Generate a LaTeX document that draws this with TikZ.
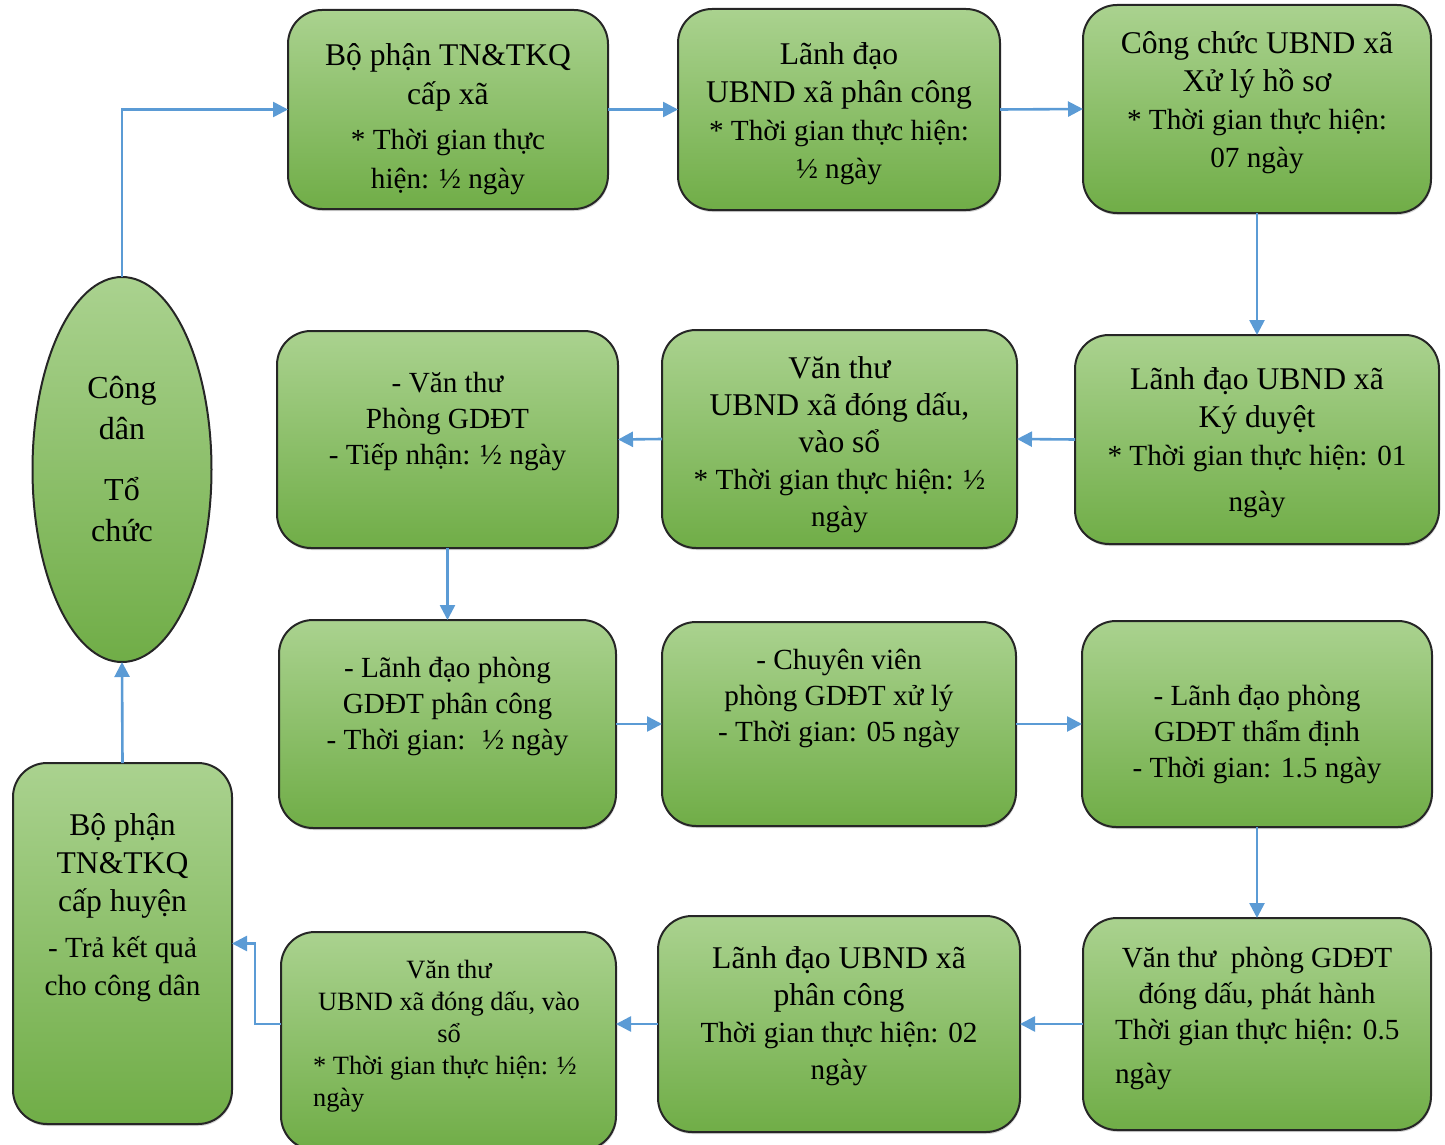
\documentclass[tikz,border=0pt]{standalone}
\usepackage{fontspec}
\setmainfont{Liberation Serif}
\usetikzlibrary{arrows.meta, positioning, shapes.geometric, shadows}

\definecolor{greenTop}{RGB}{170,210,143}
\definecolor{greenBot}{RGB}{112,173,71}
\definecolor{flowBlue}{RGB}{91,155,213}

% heading lines are set a little larger than the time lines
\newcommand{\boxhead}[1]{{\fontsize{15.8}{19}\selectfont #1}}

\begin{document}
\begin{tikzpicture}[
    x=0.5pt, y=-0.5pt,
    % Styles
    box/.style={draw=black!85, line width=1pt, rounded corners=17pt, top color=greenTop, bottom color=greenBot,
        inner sep=0pt, outer sep=0pt, drop shadow={shadow xshift=0.4pt, shadow yshift=-1pt, opacity=0.35}},
    oval/.style={ellipse, draw=black!85, line width=1pt, top color=greenTop, bottom color=greenBot,
        inner sep=0pt, outer sep=0pt, minimum width=89.5pt, minimum height=192.5pt},
    txt/.style={align=center, font=\fontsize{14.6}{19}\selectfont},
    list_txt/.style={align=center, font=\fontsize{14.6}{18}\selectfont},
    small_txt/.style={align=center, font=\fontsize{13.2}{16}\selectfont},
    arrow/.style={-{Triangle[length=7.5pt, width=7.5pt]}, line width=1.3pt, flowBlue}
]
    \useasboundingbox (0,0) rectangle (1445,1145);

    % 1. CITIZEN
    \node[oval] (citizen) at (122,469.5) {};
    \node[txt, font=\fontsize{16}{20.5}\selectfont] (t_citizen) at (122,459.5) {Công\\dân\\[10pt]Tổ\\chức};

    % 2. COMMUNE LEVEL (top row)
    \node[box, minimum width=160pt, minimum height=99.5pt] (recv_xa) at (448,109.5) {};
    \node[txt, font=\fontsize{14.6}{19.5}\selectfont] (t_recv_xa) at (448,119.5)
        {\boxhead{Bộ phận TN\&TKQ}\\\boxhead{cấp xã}\\[3pt]* Thời gian thực\\hiện: ½ ngày};

    \node[box, minimum width=161pt, minimum height=100.5pt] (lead_assign) at (839,109.5) {};
    \node[txt] (t_lead_assign) at (839,113.5)
        {\boxhead{Lãnh đạo}\\\boxhead{UBND xã phân công}\\* Thời gian thực hiện:\\½ ngày};

    \node[box, minimum width=174pt, minimum height=104pt] (officer) at (1257,109) {};
    \node[txt] (t_officer) at (1257,103)
        {\boxhead{Công chức UBND xã}\\\boxhead{Xử lý hồ sơ}\\* Thời gian thực hiện:\\07 ngày};

    % 3. SECOND ROW
    \node[box, minimum width=182pt, minimum height=104.5pt] (lead_sign) at (1257,439.5) {};
    \node[txt] (t_lead_sign) at (1257,442.5)
        {\boxhead{Lãnh đạo UBND xã}\\\boxhead{Ký duyệt}\\* Thời gian thực hiện: 01\\[4pt]ngày};

    \node[box, minimum width=177.5pt, minimum height=109pt] (clerk_xa) at (839.5,439) {};
    \node[txt, font=\fontsize{14.6}{18.5}\selectfont] (t_clerk_xa) at (839.5,445)
        {\boxhead{Văn thư}\\\boxhead{UBND xã đóng dấu,}\\\boxhead{vào sổ}\\* Thời gian thực hiện: ½\\ngày};

    \node[box, minimum width=170.5pt, minimum height=108.5pt] (clerk_gd) at (447.5,439.5) {};
    \node[list_txt] (t_clerk_gd) at (447.5,422) {- Văn thư\\Phòng GDĐT\\- Tiếp nhận: ½ ngày};

    % 4. THIRD ROW
    \node[box, minimum width=168.5pt, minimum height=104pt] (head_assign) at (447.5,724) {};
    \node[list_txt] (t_head_assign) at (447.5,706.5) {- Lãnh đạo phòng\\GDĐT phân công\\- Thời gian:~ ½ ngày};

    \node[box, minimum width=177pt, minimum height=102pt] (expert) at (839,724) {};
    \node[list_txt] (t_expert) at (839,698.5) {- Chuyên viên\\phòng GDĐT xử lý\\- Thời gian: 05 ngày};

    \node[box, minimum width=175pt, minimum height=103pt] (head_check) at (1257,724) {};
    \node[list_txt] (t_head_check) at (1257,734.5) {- Lãnh đạo phòng\\GDĐT thẩm định\\- Thời gian: 1.5 ngày};

    % 5. BOTTOM ROW
    \node[box, minimum width=174pt, minimum height=106pt] (clerk_issue) at (1257,1024) {};
    \node[list_txt] (t_clerk_issue) at (1257,978.5) {Văn thư~ phòng GDĐT\\đóng dấu, phát hành};
    \node[list_txt, align=left, anchor=west] (t_clerk_issue_time) at (1108,1054) {Thời gian thực hiện: 0.5\\[4pt]ngày};

    \node[box, minimum width=181pt, minimum height=108pt] (lead_xa) at (839,1024) {};
    \node[txt, font=\fontsize{14.6}{18.5}\selectfont] (t_lead_xa) at (839,1016)
        {\boxhead{Lãnh đạo UBND xã}\\\boxhead{phân công}\\Thời gian thực hiện: 02\\ngày};

    \node[box, minimum width=167.5pt, minimum height=109pt] (stamp_xa) at (448.5,1041) {};
    \node[small_txt] (t_stamp_xa) at (449,1001) {Văn thư\\UBND xã đóng dấu, vào\\sổ};
    \node[small_txt, align=left, anchor=west] (t_stamp_xa_time) at (306,1084) {* Thời gian thực hiện: ½\\ngày};

    \node[box, minimum width=109.5pt, minimum height=180.5pt] (recv_huyen) at (122.5,943.5) {};
    \node[txt] (t_recv_huyen) at (122.5,907.5)
        {\boxhead{Bộ phận}\\\boxhead{TN\&TKQ}\\\boxhead{cấp huyện}\\[4pt]- Trả kết quả\\cho công dân};

    % 6. ARROWS
    \draw[arrow] (citizen.north) |- (recv_xa.west);
    \draw[arrow] (recv_xa.east) -- (lead_assign.west);
    \draw[arrow] (lead_assign.east) -- (officer.west);
    \draw[arrow] (officer.south) -- (lead_sign.north);
    \draw[arrow] (lead_sign.west) -- (clerk_xa.east);
    \draw[arrow] (clerk_xa.west) -- (clerk_gd.east);
    \draw[arrow] (clerk_gd.south) -- (head_assign.north);
    \draw[arrow] (head_assign.east) -- (expert.west);
    \draw[arrow] (expert.east) -- (head_check.west);
    \draw[arrow] (head_check.south) -- (clerk_issue.north);
    \draw[arrow] (clerk_issue.west) -- (lead_xa.east);
    \draw[arrow] (lead_xa.west) -- (lead_xa.west -| stamp_xa.east);

    % Back to the district desk and the citizen
    \draw[arrow] (stamp_xa.west |- lead_xa.west) -- ++(-26,0) |- (recv_huyen.east);
    \draw[arrow] (recv_huyen.north) -- (citizen.south);

\end{tikzpicture}
\end{document}
